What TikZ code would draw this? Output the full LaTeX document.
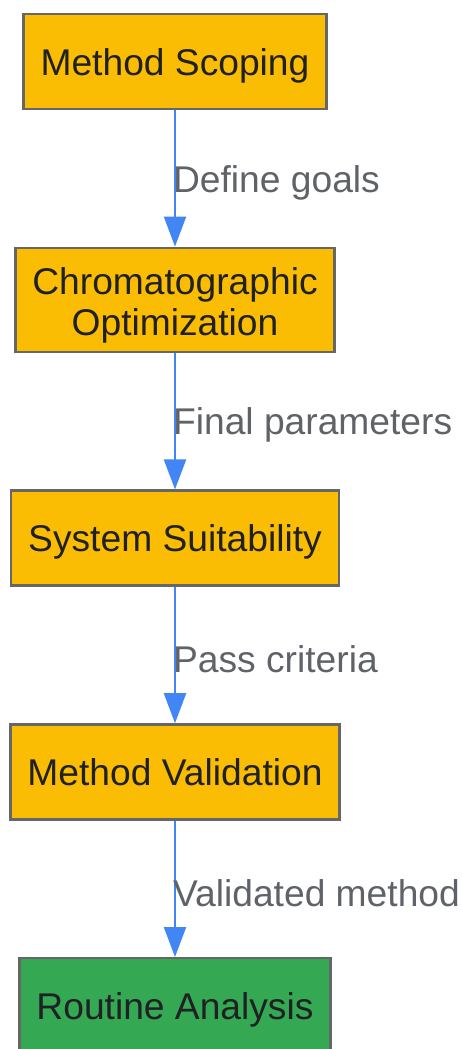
\documentclass[tikz,border=0pt]{standalone}
\usepackage{fontspec}
\setmainfont{Liberation Sans}
\usetikzlibrary{positioning,arrows.meta}

\definecolor{stepfill}{HTML}{FBBC04}
\definecolor{donefill}{HTML}{34A853}
\definecolor{boxline}{HTML}{666666}
\definecolor{boxtext}{HTML}{202124}
\definecolor{edgetext}{HTML}{5F6368}
\definecolor{edgeline}{HTML}{4285F4}

\tikzset{
  stage/.style={rectangle, draw=boxline, line width=1.2pt, fill=stepfill, text=boxtext,
    minimum height=47.5pt, inner xsep=8.5pt, align=center,
    text height=17.5pt, text depth=3.9pt,
    font=\fontsize{18.6}{20.5}\selectfont},
  flow/.style={draw=edgeline, line width=1.1pt, -{Triangle[width=11pt,length=15pt]}},
  flowlabel/.style={midway, anchor=west, xshift=-1.5pt, yshift=-2pt, inner sep=0pt, text=edgetext,
    font=\fontsize{18.6}{22}\selectfont}
}

\begin{document}
\begin{tikzpicture}[x=0.5pt, y=0.5pt, node distance=68.2pt]
    \useasboundingbox (0, 0) rectangle (461, -1049);

    % 手順のノード
    \node[stage] (scope) at (175, -61.5) {Method Scoping};
    \node[stage, minimum height=52pt, text height=39.5pt, below=of scope] (optim) {Chromatographic\\Optimization};
    \node[stage, below=of optim] (suit) {System Suitability};
    \node[stage, below=of suit] (valid) {Method Validation};
    \node[stage, fill=donefill, below=of valid] (routine) {Routine Analysis};

    \draw[flow] (scope) -- node[flowlabel] {Define goals} (optim);
    \draw[flow] (optim) -- node[flowlabel] {Final parameters} (suit);
    \draw[flow] (suit) -- node[flowlabel] {Pass criteria} (valid);
    \draw[flow] (valid) -- node[flowlabel] {Validated method} (routine);

  \end{tikzpicture}
\end{document}
